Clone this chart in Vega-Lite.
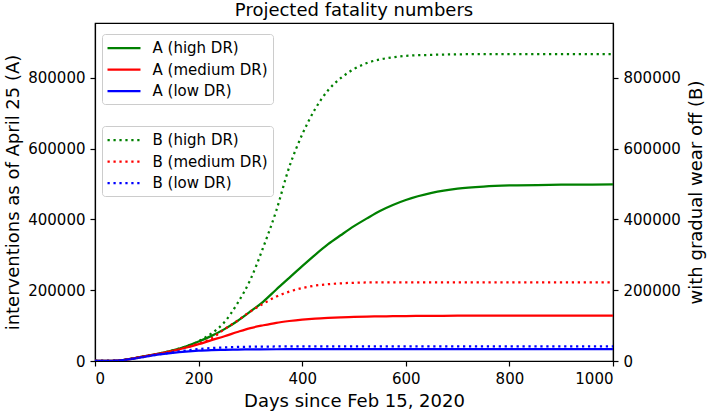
{
  "$schema": "https://vega.github.io/schema/vega-lite/v6.json",
  "autosize": "none",
  "width": 518,
  "height": 338,
  "padding": {"left": 95, "top": 23, "right": 94, "bottom": 50},
  "background": "white",
  "title": {"text": "Projected fatality numbers", "offset": 8, "dy": 19, "baseline": "alphabetic", "anchor": "middle", "frame": "group"},
  "datasets": {
    "curves": [
      {"d":0,"s":"A (high DR)","v":0},{"d":25,"s":"A (high DR)","v":200},{"d":40,"s":"A (high DR)","v":800},{"d":50,"s":"A (high DR)","v":2000},{"d":75,"s":"A (high DR)","v":7500},{"d":100,"s":"A (high DR)","v":14500},{"d":125,"s":"A (high DR)","v":21500},{"d":150,"s":"A (high DR)","v":30000},{"d":175,"s":"A (high DR)","v":41000},{"d":200,"s":"A (high DR)","v":55000},{"d":225,"s":"A (high DR)","v":71000},{"d":250,"s":"A (high DR)","v":90000},{"d":275,"s":"A (high DR)","v":113000},{"d":300,"s":"A (high DR)","v":140000},{"d":325,"s":"A (high DR)","v":168000},{"d":350,"s":"A (high DR)","v":202000},{"d":375,"s":"A (high DR)","v":235000},{"d":400,"s":"A (high DR)","v":268000},{"d":425,"s":"A (high DR)","v":300000},{"d":450,"s":"A (high DR)","v":330000},{"d":475,"s":"A (high DR)","v":356000},{"d":500,"s":"A (high DR)","v":381000},{"d":525,"s":"A (high DR)","v":403000},{"d":550,"s":"A (high DR)","v":424000},{"d":575,"s":"A (high DR)","v":441000},{"d":600,"s":"A (high DR)","v":455000},{"d":650,"s":"A (high DR)","v":475000},{"d":700,"s":"A (high DR)","v":487000},{"d":750,"s":"A (high DR)","v":493000},{"d":800,"s":"A (high DR)","v":496000},{"d":900,"s":"A (high DR)","v":498000},{"d":1000,"s":"A (high DR)","v":499000},
      {"d":0,"s":"A (medium DR)","v":0},{"d":25,"s":"A (medium DR)","v":200},{"d":40,"s":"A (medium DR)","v":800},{"d":50,"s":"A (medium DR)","v":2000},{"d":75,"s":"A (medium DR)","v":7500},{"d":100,"s":"A (medium DR)","v":14500},{"d":125,"s":"A (medium DR)","v":21000},{"d":150,"s":"A (medium DR)","v":28500},{"d":175,"s":"A (medium DR)","v":37500},{"d":200,"s":"A (medium DR)","v":47500},{"d":225,"s":"A (medium DR)","v":59000},{"d":250,"s":"A (medium DR)","v":70000},{"d":275,"s":"A (medium DR)","v":82000},{"d":300,"s":"A (medium DR)","v":93000},{"d":325,"s":"A (medium DR)","v":101000},{"d":350,"s":"A (medium DR)","v":108000},{"d":375,"s":"A (medium DR)","v":113000},{"d":400,"s":"A (medium DR)","v":117000},{"d":425,"s":"A (medium DR)","v":120000},{"d":450,"s":"A (medium DR)","v":122000},{"d":475,"s":"A (medium DR)","v":123500},{"d":500,"s":"A (medium DR)","v":124500},{"d":525,"s":"A (medium DR)","v":125500},{"d":550,"s":"A (medium DR)","v":126000},{"d":575,"s":"A (medium DR)","v":126500},{"d":600,"s":"A (medium DR)","v":127000},{"d":650,"s":"A (medium DR)","v":127500},{"d":700,"s":"A (medium DR)","v":128000},{"d":800,"s":"A (medium DR)","v":128000},{"d":1000,"s":"A (medium DR)","v":128000},
      {"d":0,"s":"A (low DR)","v":0},{"d":25,"s":"A (low DR)","v":200},{"d":40,"s":"A (low DR)","v":800},{"d":50,"s":"A (low DR)","v":2000},{"d":75,"s":"A (low DR)","v":7000},{"d":100,"s":"A (low DR)","v":13000},{"d":125,"s":"A (low DR)","v":18500},{"d":150,"s":"A (low DR)","v":23000},{"d":175,"s":"A (low DR)","v":26500},{"d":200,"s":"A (low DR)","v":29000},{"d":225,"s":"A (low DR)","v":30500},{"d":250,"s":"A (low DR)","v":31500},{"d":275,"s":"A (low DR)","v":32200},{"d":300,"s":"A (low DR)","v":32700},{"d":350,"s":"A (low DR)","v":33200},{"d":400,"s":"A (low DR)","v":33500},{"d":600,"s":"A (low DR)","v":33500},{"d":800,"s":"A (low DR)","v":33500},{"d":1000,"s":"A (low DR)","v":33500},
      {"d":0,"s":"B (high DR)","v":0},{"d":25,"s":"B (high DR)","v":200},{"d":40,"s":"B (high DR)","v":800},{"d":50,"s":"B (high DR)","v":2000},{"d":75,"s":"B (high DR)","v":7500},{"d":100,"s":"B (high DR)","v":14500},{"d":125,"s":"B (high DR)","v":21500},{"d":150,"s":"B (high DR)","v":30000},{"d":175,"s":"B (high DR)","v":41000},{"d":200,"s":"B (high DR)","v":56000},{"d":225,"s":"B (high DR)","v":78000},{"d":250,"s":"B (high DR)","v":110000},{"d":275,"s":"B (high DR)","v":163000},{"d":300,"s":"B (high DR)","v":230000},{"d":325,"s":"B (high DR)","v":322000},{"d":350,"s":"B (high DR)","v":425000},{"d":375,"s":"B (high DR)","v":548000},{"d":400,"s":"B (high DR)","v":640000},{"d":425,"s":"B (high DR)","v":712000},{"d":450,"s":"B (high DR)","v":765000},{"d":475,"s":"B (high DR)","v":800000},{"d":500,"s":"B (high DR)","v":825000},{"d":525,"s":"B (high DR)","v":842000},{"d":550,"s":"B (high DR)","v":852000},{"d":575,"s":"B (high DR)","v":858000},{"d":600,"s":"B (high DR)","v":862000},{"d":650,"s":"B (high DR)","v":865000},{"d":700,"s":"B (high DR)","v":866500},{"d":750,"s":"B (high DR)","v":867000},{"d":800,"s":"B (high DR)","v":867000},{"d":1000,"s":"B (high DR)","v":867000},
      {"d":0,"s":"B (medium DR)","v":0},{"d":25,"s":"B (medium DR)","v":200},{"d":40,"s":"B (medium DR)","v":800},{"d":50,"s":"B (medium DR)","v":2000},{"d":75,"s":"B (medium DR)","v":7500},{"d":100,"s":"B (medium DR)","v":14500},{"d":125,"s":"B (medium DR)","v":21000},{"d":150,"s":"B (medium DR)","v":28500},{"d":175,"s":"B (medium DR)","v":38000},{"d":200,"s":"B (medium DR)","v":49000},{"d":225,"s":"B (medium DR)","v":64000},{"d":250,"s":"B (medium DR)","v":90000},{"d":275,"s":"B (medium DR)","v":114000},{"d":300,"s":"B (medium DR)","v":140000},{"d":325,"s":"B (medium DR)","v":162000},{"d":350,"s":"B (medium DR)","v":182000},{"d":375,"s":"B (medium DR)","v":196000},{"d":400,"s":"B (medium DR)","v":206000},{"d":425,"s":"B (medium DR)","v":213000},{"d":450,"s":"B (medium DR)","v":217000},{"d":475,"s":"B (medium DR)","v":219500},{"d":500,"s":"B (medium DR)","v":221000},{"d":525,"s":"B (medium DR)","v":222000},{"d":550,"s":"B (medium DR)","v":222500},{"d":700,"s":"B (medium DR)","v":222500},{"d":1000,"s":"B (medium DR)","v":222500},
      {"d":0,"s":"B (low DR)","v":0},{"d":25,"s":"B (low DR)","v":200},{"d":40,"s":"B (low DR)","v":800},{"d":50,"s":"B (low DR)","v":2000},{"d":75,"s":"B (low DR)","v":7000},{"d":100,"s":"B (low DR)","v":13000},{"d":125,"s":"B (low DR)","v":19000},{"d":150,"s":"B (low DR)","v":24500},{"d":175,"s":"B (low DR)","v":29500},{"d":200,"s":"B (low DR)","v":33500},{"d":225,"s":"B (low DR)","v":36500},{"d":250,"s":"B (low DR)","v":38500},{"d":275,"s":"B (low DR)","v":39700},{"d":300,"s":"B (low DR)","v":40400},{"d":350,"s":"B (low DR)","v":41000},{"d":400,"s":"B (low DR)","v":41200},{"d":600,"s":"B (low DR)","v":41200},{"d":800,"s":"B (low DR)","v":41200},{"d":1000,"s":"B (low DR)","v":41200}
    ]
  },
  "data": {"name": "curves"},
  "layer": [
    {
      "transform": [{"filter": {"field": "s", "oneOf": ["A (high DR)", "A (medium DR)", "A (low DR)"]}}],
      "mark": {"type": "line", "strokeWidth": 2.25, "strokeCap": "butt", "interpolate": "monotone", "clip": true},
      "encoding": {
        "x": {"field": "d", "type": "quantitative", "scale": {"domain": [0, 1000], "nice": false}, "axis": {"values": [0, 200, 400, 600, 800, 1000], "format": "d", "title": "Days since Feb 15, 2020", "titlePadding": 6}},
        "y": {"field": "v", "type": "quantitative", "scale": {"domain": [0, 955000], "nice": false}, "axis": {"orient": "left", "values": [0, 200000, 400000, 600000, 800000], "format": "d", "title": "interventions as of April 25 (A)", "titlePadding": 5}},
        "color": {"field": "s", "type": "nominal", "scale": {"domain": ["A (high DR)", "A (medium DR)", "A (low DR)"], "range": ["#008000", "#ff0000", "#0000ff"]},
          "legend": {"title": null, "orient": "none", "legendX": 7, "legendY": 11, "symbolType": "M-2,0H2", "symbolSize": 272, "symbolStrokeWidth": 2.25}}
      }
    },
    {
      "transform": [{"filter": {"field": "s", "oneOf": ["B (high DR)", "B (medium DR)", "B (low DR)"]}}],
      "mark": {"type": "line", "strokeWidth": 2.25, "strokeDash": [2.25, 3.7], "strokeCap": "butt", "interpolate": "monotone", "clip": true},
      "encoding": {
        "x": {"field": "d", "type": "quantitative", "scale": {"domain": [0, 1000], "nice": false}},
        "y": {"field": "v", "type": "quantitative", "scale": {"domain": [0, 955000], "nice": false}, "axis": {"orient": "right", "values": [0, 200000, 400000, 600000, 800000], "format": "d", "title": "with gradual wear off (B)", "titleAngle": 270, "titleBaseline": "top", "titlePadding": 7}},
        "color": {"field": "s", "type": "nominal", "scale": {"domain": ["B (high DR)", "B (medium DR)", "B (low DR)"], "range": ["#008000", "#ff0000", "#0000ff"]},
          "legend": {"title": null, "orient": "none", "legendX": 7, "legendY": 103, "symbolType": "M-2,0H2", "symbolSize": 272, "symbolStrokeWidth": 2.25, "symbolDash": [2.25, 3.7]}}
      }
    }
  ],
  "resolve": {"scale": {"y": "independent", "color": "independent"}},
  "config": {
    "font": "DejaVu Sans",
    "view": {"stroke": "black", "strokeWidth": 1.2},
    "axis": {"grid": false, "domainColor": "black", "domainWidth": 1.2, "tickColor": "black", "tickWidth": 1.2, "tickSize": 5, "labelFontSize": 15, "labelColor": "black", "labelPadding": 5, "labelFont": "DejaVu Sans", "titleFont": "DejaVu Sans", "titleFontSize": 18, "titleFontWeight": "normal", "titleColor": "black"},
    "legend": {"labelFontSize": 15, "labelFont": "DejaVu Sans", "labelColor": "black", "fillColor": "rgba(255,255,255,0.8)", "strokeColor": "#cccccc", "cornerRadius": 3, "padding": 4.5, "rowPadding": 3.5, "symbolOffset": 8, "labelOffset": 19},
    "title": {"fontSize": 18, "fontWeight": "normal", "font": "DejaVu Sans", "color": "black"}
  }
}
